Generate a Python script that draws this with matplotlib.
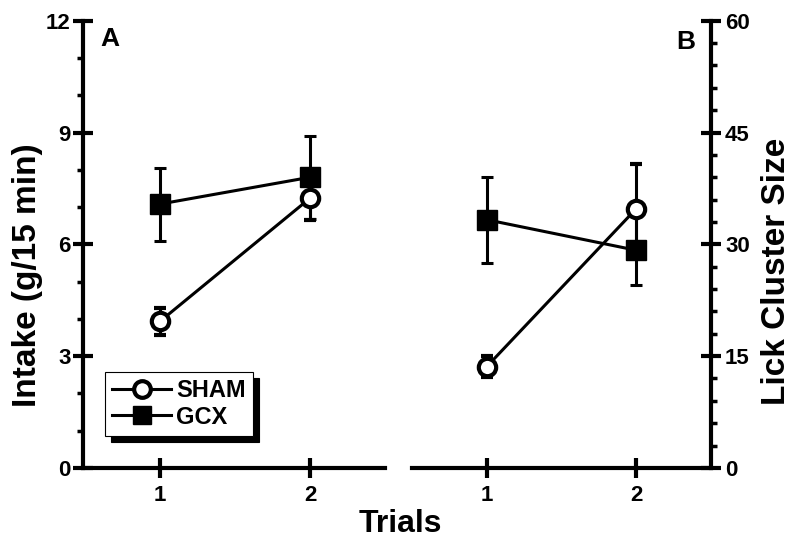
import numpy as np
import matplotlib.pyplot as plt
from matplotlib.lines import Line2D
from matplotlib.ticker import MultipleLocator

plt.rcParams['font.family'] = ['Liberation Sans', 'DejaVu Sans']
plt.rcParams['font.weight'] = 'bold'

trials = [1, 2]

# panel A: intake (g/15 min)
sham_intake = [3.93, 7.24]
sham_intake_err = [0.36, 0.58]
gcx_intake = [7.08, 7.8]
gcx_intake_err = [0.98, 1.12]

# panel B: lick cluster size
sham_lick = [13.6, 34.8]
sham_lick_err = [1.4, 6.0]
gcx_lick = [33.3, 29.2]
gcx_lick_err = [5.8, 4.6]

fig = plt.figure(figsize=(8, 5.46), dpi=100)
axA = fig.add_axes([0.104, 0.143, 0.3775, 0.819])
axB = fig.add_axes([0.515, 0.143, 0.374, 0.819])

lw = 2.2
sw = 3


def draw(ax, sham, sham_err, gcx, gcx_err):
    ax.errorbar(trials, gcx, yerr=gcx_err, color='black', lw=lw, marker='s',
                ms=14, mfc='black', mec='black', capsize=4, capthick=lw,
                elinewidth=lw, zorder=3)
    ax.errorbar(trials, sham, yerr=sham_err, color='black', lw=lw, marker='o',
                ms=12.5, mfc='white', mec='black', mew=3, capsize=4,
                capthick=lw, elinewidth=lw, zorder=4)
    ax.set_xlim(0.49, 2.5)
    ax.set_xticks(trials)
    for s in ax.spines.values():
        s.set_linewidth(sw)
    ax.spines['top'].set_visible(False)
    ax.tick_params(axis='both', which='major', direction='inout', length=14,
                   width=sw, labelsize=16)
    ax.tick_params(axis='y', which='minor', direction='out', length=4,
                   width=2.5)
    ax.tick_params(axis='x', pad=5)
    ax.tick_params(axis='y', pad=2)


draw(axA, sham_intake, sham_intake_err, gcx_intake, gcx_intake_err)
axA.set_ylim(0, 12)
axA.yaxis.set_major_locator(MultipleLocator(3))
axA.yaxis.set_minor_locator(MultipleLocator(1))
axA.spines['right'].set_visible(False)
axA.set_ylabel('Intake (g/15 min)', fontsize=24, fontweight='bold', labelpad=2)
axA.yaxis.label.set_y(0.43)
axA.text(0.056, 0.985, 'A', transform=axA.transAxes, fontsize=19,
         fontweight='bold', va='top')

draw(axB, sham_lick, sham_lick_err, gcx_lick, gcx_lick_err)
axB.set_xlim(0.5, 2.5)
axB.set_ylim(0, 60)
axB.yaxis.set_major_locator(MultipleLocator(15))
axB.yaxis.set_minor_locator(MultipleLocator(3))
axB.spines['left'].set_visible(False)
axB.yaxis.tick_right()
axB.yaxis.set_label_position('right')
axB.tick_params(axis='y', pad=3)
axB.set_ylabel('Lick Cluster Size', fontsize=24, fontweight='bold', labelpad=8)
axB.yaxis.label.set_y(0.44)
axB.text(0.946, 0.98, 'B', transform=axB.transAxes, fontsize=19,
         fontweight='bold', va='top', ha='right')

handles = [
    Line2D([], [], color='black', lw=lw, marker='o', ms=12, mfc='white',
           mec='black', mew=3),
    Line2D([], [], color='black', lw=lw, marker='s', ms=13, mfc='black',
           mec='black'),
]
leg = axA.legend(handles, ['SHAM', 'GCX'], loc='lower left',
                 bbox_to_anchor=(0.073, 0.072), borderaxespad=0,
                 fancybox=False, edgecolor='black', fontsize=17,
                 handlelength=2.5, handletextpad=0.2, labelspacing=0.15,
                 borderpad=0.3,
                 shadow={'ox': 4.5, 'oy': -4.5, 'color': 'black', 'alpha': 1})
leg.get_frame().set_linewidth(0.8)

fig.text(0.5, 0.04, 'Trials', ha='center', va='center', fontsize=23,
         fontweight='bold')

fig.savefig('out.png', dpi=100)
